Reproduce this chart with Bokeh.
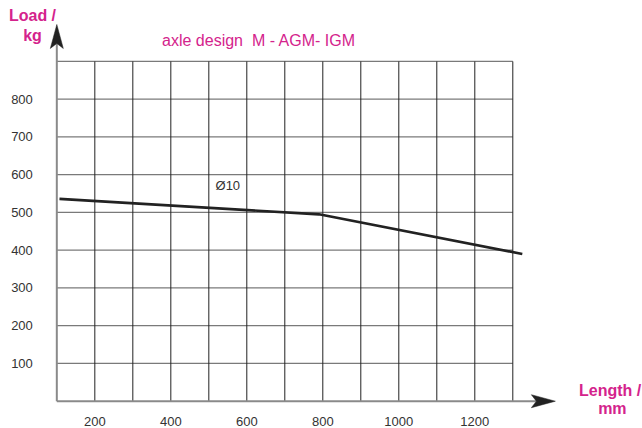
from bokeh.plotting import figure
from bokeh.models import Range1d, Label
from bokeh.embed import file_html
from bokeh.resources import INLINE

# ---- data ----
lengths = [107, 790, 1325]          # mm
loads = [536, 495, 390]             # kg
x_ticks = [200, 400, 600, 800, 1000, 1200]
y_ticks = [100, 200, 300, 400, 500, 600, 700, 800]
x_grid = [100, 200, 300, 400, 500, 600, 700, 800, 900, 1000, 1100, 1200, 1300]
y_grid = [100, 200, 300, 400, 500, 600, 700, 800, 900]
title_text = "axle design\u00a0 M - AGM- IGM"
series_label = "Ø10"

MAGENTA = "#d4238c"
FONT = "Liberation Sans"

W, H = 642, 428
X_RANGE = (-48.2, 1641.3)
Y_RANGE = (-72.3, 1061.5)
p = figure(width=W, height=H, output_backend="svg", toolbar_location=None,
           x_range=Range1d(*X_RANGE), y_range=Range1d(*Y_RANGE),
           x_axis_location=None, y_axis_location=None, min_border=0)
p.outline_line_color = None
p.grid.visible = False
p.background_fill_color = "white"
p.border_fill_color = "white"

# pixel -> data unit factors
ux = (X_RANGE[1] - X_RANGE[0]) / W
uy = (Y_RANGE[1] - Y_RANGE[0]) / H

x0, x1 = x_grid[0], x_grid[-1]
y0, y1 = 0, y_grid[-1]

# grid
p.segment(x0=[x0] * len(y_grid), x1=[x1] * len(y_grid),
          y0=y_grid, y1=y_grid, line_color="#7a7a7a", line_width=1.3)
p.segment(x0=x_grid[1:], x1=x_grid[1:], y0=[y0] * (len(x_grid) - 1),
          y1=[y1] * (len(x_grid) - 1), line_color="#222222", line_width=1)

# axis arrows (stealth heads)
X_TIP, Y_TIP = 1412, 998
HL, HW, HN = 24, 6.5, 5    # head length, half width, notch (px)
p.segment(x0=[x0, x0], y0=[y0, y0],
          x1=[X_TIP - (HL - HN) * ux, x0], y1=[y0, Y_TIP - (HL - HN) * uy],
          line_color="#8a8a8a", line_width=2)
p.patches(
    xs=[[X_TIP, X_TIP - HL * ux, X_TIP - (HL - HN) * ux, X_TIP - HL * ux],
        [x0, x0 - HW * ux, x0, x0 + HW * ux]],
    ys=[[y0, y0 + HW * uy, y0, y0 - HW * uy],
        [Y_TIP, Y_TIP - HL * uy, Y_TIP - (HL - HN) * uy, Y_TIP - HL * uy]],
    fill_color="#222222", line_color="#222222", line_width=0.5)

# data line
p.line(lengths, loads, line_color="#222222", line_width=2.6)

# tick labels
p.text(x=x_ticks, y=[y0] * len(x_ticks), text=[str(t) for t in x_ticks],
       y_offset=20, text_align="center", text_baseline="middle",
       text_font={"value": FONT}, text_font_size="13px", text_color="#333333")
p.text(x=[x0] * len(y_ticks), y=y_ticks, text=[str(t) for t in y_ticks],
       x_offset=-24, text_align="right", text_baseline="middle",
       text_font={"value": FONT}, text_font_size="13px", text_color="#333333")

# texts
def lab(x, y, text, size, color, style="normal"):
    p.add_layout(Label(x=x, y=y, text=text, text_font=FONT, text_font_size=size,
                       text_color=color, text_font_style=style,
                       text_align="center", text_baseline="middle"))

lab(632, 955, title_text, "16px", MAGENTA)
lab(36, 1022, "Load /", "16px", MAGENTA, "bold")
lab(36, 969, "kg", "16px", MAGENTA, "bold")
lab(1556, 28, "Length /", "16px", MAGENTA, "bold")
lab(1562, -20, "mm", "16px", MAGENTA, "bold")
lab(550, 571, series_label, "13px", "#333333")

open("out.html", "w").write(file_html(p, INLINE))
